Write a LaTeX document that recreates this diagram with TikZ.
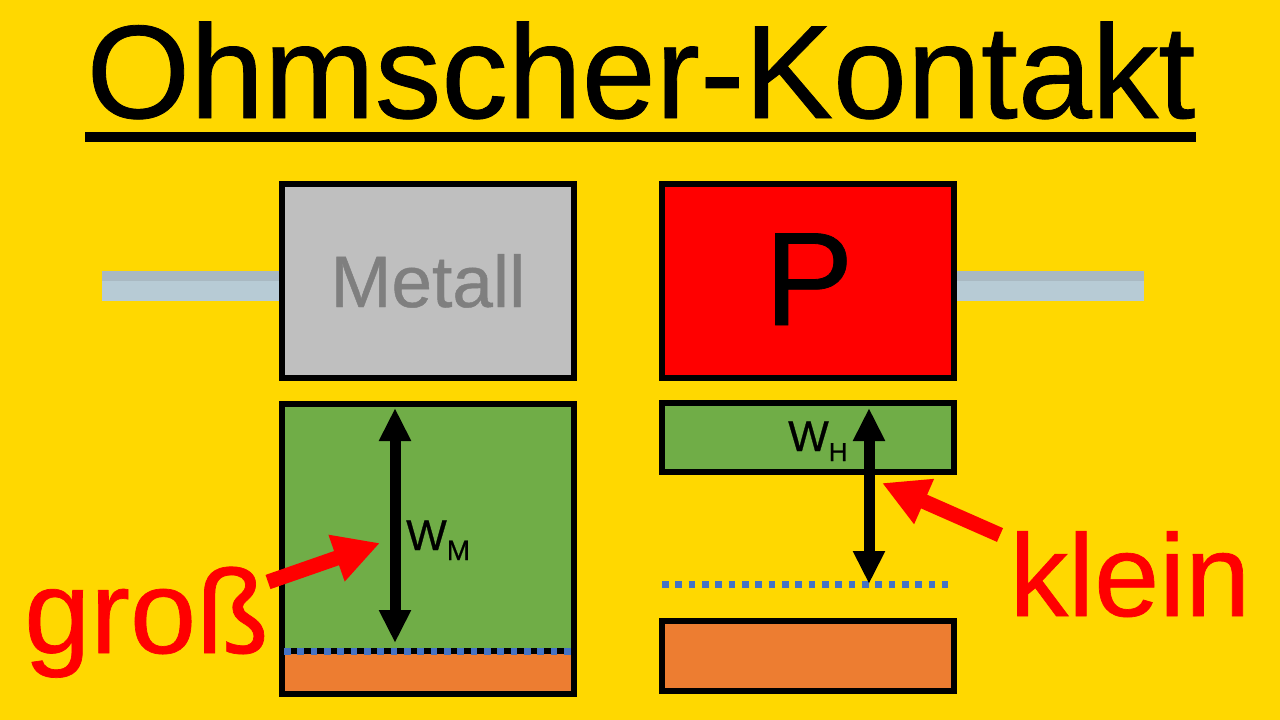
\documentclass[tikz,border=0pt]{standalone}
\usepackage{fontspec}
\setmainfont[FakeBold=0.6]{Liberation Sans}
\usetikzlibrary{arrows.meta}
\definecolor{gelb}{HTML}{FFD800}
\definecolor{gruen}{HTML}{70AD47}
\definecolor{orange}{HTML}{ED7D31}
\definecolor{blau}{HTML}{4472C4}
\definecolor{metall}{HTML}{BFBFBF}
\definecolor{metalltext}{HTML}{7F7F7F}
\definecolor{rot}{HTML}{FF0000}
\definecolor{drahtA}{HTML}{A9B9C2}
\definecolor{drahtB}{HTML}{B7CBD5}
\newcommand{\schrift}[1]{\fontsize{#1}{#1}\selectfont}
\tikzset{
  kasten/.style={draw=black,line width=6pt,inner sep=0pt,minimum width=292.5pt},
  pegel/.style={blau,line width=7pt,dash pattern=on 6.67pt off 6.67pt},
  wpfeil/.style={black,line width=11pt,{Triangle[length=33pt,width=30pt]}-{Triangle[length=33pt,width=30pt]}},
  rpfeil/.style={rot,line width=15pt,-{Triangle[length=46pt,width=46pt]}},
  wtext/.style={anchor=base west,inner sep=0pt,black,font=\schrift{43}},
  grosstext/.style={inner sep=0pt,anchor=base},
}
\begin{document}
\begin{tikzpicture}[x=1pt,y=-1pt]
\useasboundingbox[fill=gelb] (0,0) rectangle (1280,720);

\node[grosstext,font=\schrift{133}] (titel) at (641,118) {Ohmscher-Kontakt};
\fill[black] (84.5,132) rectangle (1196,141.5);

% Draehte
\fill[drahtB] (102,271) rectangle (280,301);
\fill[drahtA] (102,271) rectangle (280,281);
\fill[drahtB] (955,271) rectangle (1144,301);
\fill[drahtA] (955,271) rectangle (1144,281);

\node[kasten,fill=metall,minimum height=194pt] (metallbox) at (428,281) {};
\node[kasten,fill=rot,minimum height=194pt] (pbox) at (808,281) {};
\node[grosstext,text=metalltext,font=\schrift{73}] (metalltxt) at (428,307) {Metall};
\node[grosstext,font=\schrift{133}] (ptxt) at (809,325) {P};

\node[kasten,fill=orange,minimum height=43pt] (orangeL) at (428,672.5) {};
\node[kasten,fill=gruen,minimum height=247pt] (gruenL) at (428,527.5) {};
\node[kasten,fill=orange,minimum height=70pt] (orangeR) at (808,656) {};
\node[kasten,fill=gruen,minimum height=69.5pt] (gruenR) at (808,437.25) {};

\coordinate (pegelLa) at (284,651);
\coordinate (pegelLb) at (571,651);
\coordinate (pegelRa) at (662,584);
\coordinate (pegelRb) at (948,584);
\draw[pegel] (pegelLa) -- (pegelLb);
\draw[pegel] (pegelRa) -- (pegelRb);

\coordinate (wmOben) at (395,408);
\coordinate (wmUnten) at (395,643);
\coordinate (whOben) at (869,408);
\coordinate (whUnten) at (869,584);
\draw[wpfeil] (wmOben) -- (wmUnten);
\draw[wpfeil] (whOben) -- (whUnten);

\node[wtext] (wm) at (406,550) {W\raisebox{-10pt}{\schrift{28}M}};
\node[wtext] (wh) at (788,451) {W\raisebox{-10pt}{\schrift{26}H}};

\node[anchor=base west,inner sep=0pt,text=rot,font=\schrift{119}] (gross) at (24,653) {groß};
\node[anchor=base west,inner sep=0pt,text=rot,font=\schrift{117}] (klein) at (1009.5,616) {klein};

\coordinate (grossEnde) at (268,582);
\coordinate (grossSpitze) at (380,543);
\coordinate (kleinEnde) at (1000,535);
\coordinate (kleinSpitze) at (882,483);
\draw[rpfeil] (grossEnde) -- (grossSpitze);
\draw[rpfeil] (kleinEnde) -- (kleinSpitze);
\end{tikzpicture}
\end{document}
